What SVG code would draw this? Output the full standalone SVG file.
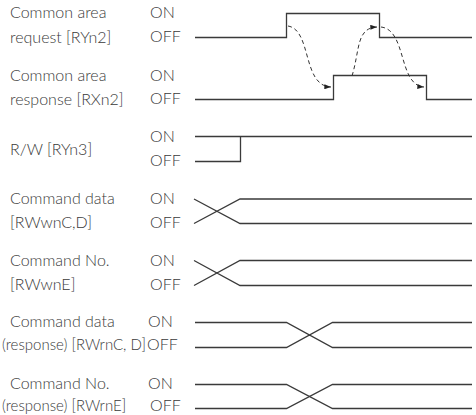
<svg xmlns="http://www.w3.org/2000/svg" width="476" height="415" viewBox="0 0 476 415">
<style>
text{font-family:Lato,"Open Sans","Liberation Sans",sans-serif;font-weight:300;font-size:16px;fill:#3a3a3a}
text.sm{font-size:15px}
.sig{fill:none;stroke:#3a3a3a;stroke-width:1.3}
.dash{fill:none;stroke:#333;stroke-width:1;stroke-dasharray:4 3}
</style>
<defs>
<marker id="ah" viewBox="0 0 8 6" refX="8" refY="3" markerWidth="7" markerHeight="5" markerUnits="userSpaceOnUse" orient="auto">
<path d="M0,0 L8,3 L0,6 Z" fill="#222"/>
</marker>
</defs>
<g id="labels">
<g id="req"><text x="10" y="18">Common area</text><text x="10" y="43">request [RYn2]</text><text x="150" y="18">ON</text><text x="150" y="42">OFF</text></g>
<g id="resp"><text x="10" y="81">Common area</text><text x="10" y="105">response [RXn2]</text><text x="150" y="81">ON</text><text x="150" y="104">OFF</text></g>
<g id="rw"><text x="10" y="155">R/W [RYn3]</text><text x="150" y="142">ON</text><text x="150" y="166">OFF</text></g>
<g id="cmddata"><text x="10" y="204">Command data</text><text x="10" y="228">[RWwnC,D]</text><text x="150" y="204">ON</text><text x="150" y="228">OFF</text></g>
<g id="cmdno"><text x="10" y="266">Command No.</text><text x="10" y="290">[RWwnE]</text><text x="150" y="266">ON</text><text x="150" y="290">OFF</text></g>
<g id="cmddataresp"><text x="10" y="327">Command data</text><text class="sm" x="2" y="350">(response) [RWrnC, D]</text><text x="148" y="327">ON</text><text x="147" y="350">OFF</text></g>
<g id="cmdnoresp"><text x="10" y="389">Command No.</text><text class="sm" x="2" y="411">(response) [RWrnE]</text><text x="148" y="389">ON</text><text x="150" y="411">OFF</text></g>
</g>
<g id="signals">
<path class="sig" d="M195,37.5 H286.5 V13.5 H379.5 V37.5 H472"/>
<path class="sig" d="M195,99.5 H333.5 V75.5 H426.5 V99.5 H472"/>
<path class="sig" d="M195,136.5 H472"/>
<path class="sig" d="M195,161.5 H240.5 V136.5"/>
<path class="sig" d="M194,199 L240,223.5 H472 M194,223.5 L240,199 H472"/>
<path class="sig" d="M194,260.5 L240,285.5 H472 M194,285.5 L240,260.5 H472"/>
<path class="sig" d="M195,322.5 H286.5 L332.5,347.5 H472 M195,347.5 H286.5 L332.5,322.5 H472"/>
<path class="sig" d="M195,384.5 H286.5 L332.5,408.5 H472 M195,408.5 H286.5 L332.5,384.5 H472"/>
</g>
<g id="connectors">
<path class="dash" d="M288,26 C312,30 302,86 331,87" marker-end="url(#ah)"/>
<path class="dash" d="M352,76 C360,50 356,28 377,27" marker-end="url(#ah)"/>
<path class="dash" d="M381,27 C407,30 398,85 424,87" marker-end="url(#ah)"/>
</g>
</svg>
